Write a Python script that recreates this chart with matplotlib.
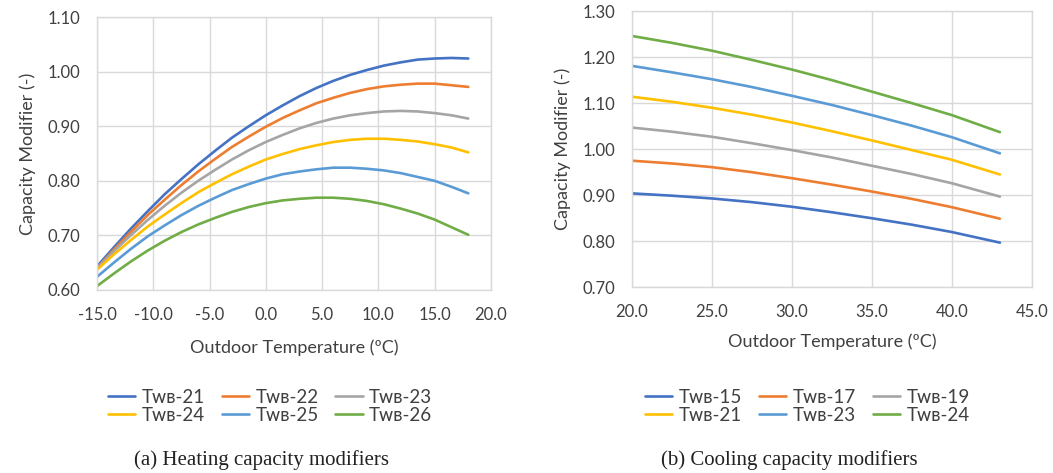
import matplotlib
matplotlib.use("Agg")
import matplotlib.pyplot as plt
from matplotlib.ticker import FormatStrFormatter, MultipleLocator

# ---------------- data ----------------
heat_t = [-15, -13.5, -12, -10.5, -9, -7.5, -6, -4.5, -3, -1.5, 0, 1.5, 3, 4.5,
          6, 7.5, 9, 10.5, 12, 13.5, 15, 16.5, 18]
heat_labels = ["Tᴡʙ-21", "Tᴡʙ-22", "Tᴡʙ-23", "Tᴡʙ-24", "Tᴡʙ-25", "Tᴡʙ-26"]
heat_21 = [0.643, 0.678, 0.712, 0.744, 0.775, 0.803, 0.830, 0.855, 0.879, 0.900, 0.920, 0.938,
           0.955, 0.970, 0.983, 0.994, 1.003, 1.011, 1.017, 1.022, 1.024, 1.025, 1.024]
heat_22 = [0.640, 0.674, 0.706, 0.737, 0.765, 0.792, 0.817, 0.840, 0.862, 0.881, 0.899, 0.915,
           0.929, 0.942, 0.952, 0.961, 0.968, 0.973, 0.976, 0.978, 0.978, 0.975, 0.972]
heat_23 = [0.640, 0.671, 0.700, 0.728, 0.754, 0.778, 0.800, 0.820, 0.839, 0.856, 0.871, 0.884,
           0.896, 0.906, 0.914, 0.920, 0.924, 0.927, 0.928, 0.927, 0.924, 0.920, 0.914]
heat_24 = [0.637, 0.665, 0.691, 0.716, 0.738, 0.759, 0.779, 0.796, 0.812, 0.826, 0.839, 0.849,
           0.858, 0.865, 0.871, 0.875, 0.877, 0.877, 0.875, 0.872, 0.867, 0.861, 0.852]
heat_25 = [0.624, 0.650, 0.675, 0.698, 0.718, 0.737, 0.754, 0.769, 0.783, 0.794, 0.804, 0.812,
           0.817, 0.821, 0.824, 0.824, 0.822, 0.819, 0.814, 0.807, 0.800, 0.789, 0.777]
heat_26 = [0.607, 0.630, 0.652, 0.672, 0.690, 0.706, 0.720, 0.732, 0.743, 0.752, 0.759, 0.764,
           0.767, 0.769, 0.769, 0.767, 0.763, 0.757, 0.749, 0.740, 0.729, 0.715, 0.701]

cool_t = [20, 22.5, 25, 27.5, 30, 32.5, 35, 37.5, 40, 43]
cool_labels = ["Tᴡʙ-15", "Tᴡʙ-17", "Tᴡʙ-19", "Tᴡʙ-21", "Tᴡʙ-23", "Tᴡʙ-24"]
cool_15 = [0.904, 0.899, 0.893, 0.885, 0.875, 0.863, 0.850, 0.836, 0.820, 0.797]
cool_17 = [0.975, 0.969, 0.961, 0.950, 0.937, 0.923, 0.908, 0.892, 0.874, 0.849]
cool_19 = [1.047, 1.038, 1.027, 1.013, 0.998, 0.982, 0.964, 0.946, 0.926, 0.897]
cool_21 = [1.114, 1.103, 1.090, 1.075, 1.058, 1.039, 1.019, 0.998, 0.977, 0.945]
cool_23 = [1.181, 1.167, 1.152, 1.135, 1.116, 1.096, 1.074, 1.051, 1.026, 0.991]
cool_24 = [1.246, 1.231, 1.214, 1.194, 1.173, 1.150, 1.125, 1.100, 1.074, 1.037]

colors = ["#4472C4", "#ED7D31", "#A5A5A5", "#FFC000", "#5B9BD5", "#70AD47"]

FONT = ["Lato", "DejaVu Sans"]
plt.rcParams["font.family"] = FONT
TXT = "#404040"

fig = plt.figure(figsize=(10.53, 4.73), dpi=100)
ax1 = fig.add_axes([0.0921, 0.387, 0.374, 0.577])
ax2 = fig.add_axes([0.600, 0.3926, 0.380, 0.584])


def style(ax, xlim, ylim, xstep, ystep, xlabelpad):
    ax.set_xlim(*xlim)
    ax.set_ylim(*ylim)
    ax.xaxis.set_major_locator(MultipleLocator(xstep))
    ax.yaxis.set_major_locator(MultipleLocator(ystep))
    ax.xaxis.set_major_formatter(FormatStrFormatter("%.1f"))
    ax.yaxis.set_major_formatter(FormatStrFormatter("%.2f"))
    ax.grid(True, color="#D9D9D9", linewidth=1.0)
    ax.set_axisbelow(True)
    for s in ax.spines.values():
        s.set_color("#D9D9D9")
        s.set_linewidth(1.0)
    ax.tick_params(length=0, labelsize=12, colors=TXT)
    ax.tick_params(axis="x", pad=12)
    ax.tick_params(axis="y", pad=12)
    ax.set_ylabel("Capacity Modifier (-)", fontsize=13, color=TXT, labelpad=8)
    ax.set_xlabel("Outdoor Temperature (ºC)", fontsize=13, color=TXT, labelpad=xlabelpad)


heat_series = [heat_21, heat_22, heat_23, heat_24, heat_25, heat_26]
for vals, lab, c in zip(heat_series, heat_labels, colors):
    ax1.plot(heat_t, vals, color=c, lw=1.9, label=lab, solid_capstyle="round")
style(ax1, (-15, 20), (0.60, 1.10), 5, 0.10, 12)

cool_series = [cool_15, cool_17, cool_19, cool_21, cool_23, cool_24]
for vals, lab, c in zip(cool_series, cool_labels, colors):
    ax2.plot(cool_t, vals, color=c, lw=1.9, label=lab, solid_capstyle="round")
style(ax2, (20, 45), (0.70, 1.30), 5, 0.10, 10)

order = [0, 3, 1, 4, 2, 5]
for ax, cx in [(ax1, 0.2564), (ax2, 0.767)]:
    h, l = ax.get_legend_handles_labels()
    leg = ax.legend([h[i] for i in order], [l[i] for i in order],
                    loc="center", bbox_to_anchor=(cx, 0.141), bbox_transform=fig.transFigure,
                    ncol=3, frameon=False, fontsize=13.5, labelspacing=0.05,
                    handlelength=1.45, handletextpad=0.35, columnspacing=0.9, borderpad=0)
    for t in leg.get_texts():
        t.set_color(TXT)

fig.text(0.248, 0.027, "(a) Heating capacity modifiers", ha="center", va="center",
         fontsize=15, family=["Liberation Serif", "DejaVu Serif"], color="#222222")
fig.text(0.750, 0.027, "(b) Cooling capacity modifiers", ha="center", va="center",
         fontsize=15, family=["Liberation Serif", "DejaVu Serif"], color="#222222")

fig.savefig("out.png", dpi=100)
